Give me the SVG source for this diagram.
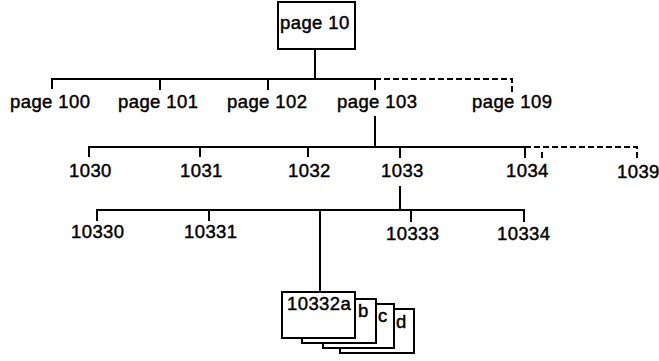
<svg xmlns="http://www.w3.org/2000/svg" width="659" height="361" viewBox="0 0 659 361">
<style>
text{font-family:"Liberation Sans",Arial,sans-serif;font-size:18.5px;letter-spacing:0.4px;fill:#000;stroke:#000;stroke-width:0.45px}
.ln{stroke:#000;stroke-width:2;fill:none}
.ds{stroke:#000;stroke-width:2;fill:none;stroke-dasharray:6 3}
.card{stroke:#000;stroke-width:2;fill:#fff}
</style>
<rect width="659" height="361" fill="#fff"/>
<g id="connectors">
<path class="ln" d="M315 49V79M52 89V79H375M160 79V90M268 79V90M375 79V90"/>
<path class="ds" d="M375 79H512V92"/>
<path class="ln" d="M375 116V147M89 157V147H525M200 147V157M308 147V157M400 147V158M525 147V158"/>
<path class="ds" d="M525 147H637V160M542 152V158"/>
<path class="ln" d="M400 186V210M97 221V210H524V222M209 210V221M411 210V222M320 210V292"/>
</g>
<g id="n10"><rect class="card" x="278" y="2" width="77" height="47"/><text x="280" y="29">page 10</text></g>
<g id="n100"><text x="10" y="108">page 100</text></g>
<g id="n101"><text x="118" y="108">page 101</text></g>
<g id="n102"><text x="227" y="108">page 102</text></g>
<g id="n103"><text x="337" y="108">page 103</text></g>
<g id="n109"><text x="472" y="108">page 109</text></g>
<g id="n1030"><text x="69" y="177">1030</text></g>
<g id="n1031"><text x="180" y="177">1031</text></g>
<g id="n1032"><text x="288" y="177">1032</text></g>
<g id="n1033"><text x="381" y="177">1033</text></g>
<g id="n1034"><text x="506" y="177">1034</text></g>
<g id="n1039"><text x="617" y="178">1039</text></g>
<g id="n10330"><text x="71" y="238">10330</text></g>
<g id="n10331"><text x="184" y="238">10331</text></g>
<g id="n10333"><text x="386" y="240">10333</text></g>
<g id="n10334"><text x="497" y="240">10334</text></g>
<g id="n10332">
<rect class="card" x="340" y="309" width="74" height="44"/>
<text x="396" y="328">d</text>
<rect class="card" x="323" y="304" width="71" height="44"/>
<text x="378" y="322">c</text>
<rect class="card" x="302" y="299" width="74" height="44"/>
<text x="358" y="317">b</text>
<rect class="card" x="282" y="292" width="73" height="46"/>
<text x="287" y="310">10332a</text>
</g>
</svg>
